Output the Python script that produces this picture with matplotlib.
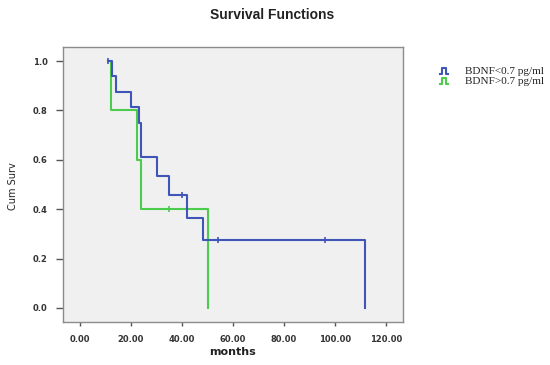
import matplotlib
matplotlib.use("Agg")
import matplotlib.pyplot as plt
from matplotlib.lines import Line2D

# Blue group: BDNF<0.7 pg/ml
blue_times = [11.0, 12.4, 14.1, 20.0, 23.1, 24.0, 30.1, 35.0, 42.1, 48.1, 111.9]
blue_surv = [1.0, 0.9375, 0.875, 0.8125, 0.75, 0.611, 0.534, 0.457, 0.366, 0.274, 0.0]
blue_cens_t = [11.0, 40.0, 54.0, 96.0]
blue_cens_s = [1.0, 0.457, 0.274, 0.274]

# Green group: BDNF>0.7 pg/ml
green_times = [12.0, 12.2, 22.2, 24.0, 50.0]
green_surv = [1.0, 0.8, 0.6, 0.4, 0.0]
green_cens_t = [35.0]
green_cens_s = [0.4]

xticks = [0, 20, 40, 60, 80, 100, 120]
yticks = [0.0, 0.2, 0.4, 0.6, 0.8, 1.0]

BLUE = "#4055B8"
GREEN = "#4CCB4C"

fig = plt.figure(figsize=(5.5, 3.65), dpi=100)
ax = fig.add_axes([63/550, 1-322/365, 340/550, 275/365])
ax.set_facecolor("#F0F0F0")

ax.step(green_times, green_surv, where="post", color=GREEN, lw=1.5)
ax.step(blue_times, blue_surv, where="post", color=BLUE, lw=1.5)
ax.plot(green_cens_t, green_cens_s, ls="none", marker="|", ms=5, mew=1.2, color=GREEN)
ax.plot(blue_cens_t, blue_cens_s, ls="none", marker="|", ms=5, mew=1.2, color=BLUE)

ax.set_xlim(-6.67, 126.67)
ax.set_ylim(-0.0567, 1.0567)
ax.set_xticks(xticks)
ax.set_xticklabels([f"{v:.2f}" for v in xticks])
ax.set_yticks(yticks)
ax.set_yticklabels([f"{v:.1f}" for v in yticks])

for s in ax.spines.values():
    s.set_color("#8C8C8C")
    s.set_linewidth(1.0)
ax.tick_params(axis="x", length=3, width=1, color="#555555", pad=6,
               labelsize=6, labelcolor="#333333")
ax.tick_params(axis="y", length=5, width=1, color="#555555", pad=6,
               labelsize=6, labelcolor="#333333")
for lab in ax.get_xticklabels() + ax.get_yticklabels():
    lab.set_fontweight("bold")

fig.text(272/550, 1-15/365, "Survival Functions", ha="center", va="center",
         family="Liberation Sans", fontweight="bold", fontsize=10, color="#222222")
fig.text(233/550, 1-352/365, "months", ha="center", va="center",
         fontweight="bold", fontsize=8, color="#222222")
fig.text(13/550, 1-186/365, "Cum Surv", ha="center", va="center",
         rotation=90, fontsize=7, color="#222222")

# legend
for i, (col, lab) in enumerate([(BLUE, "BDNF<0.7 pg/ml"), (GREEN, "BDNF>0.7 pg/ml")]):
    yc = 71 + i * 10
    x0, x1 = 440, 448
    xs = [x0, x0 + 2, x0 + 2, x1 - 2, x1 - 2, x1]
    ys = [yc + 3, yc + 3, yc - 3, yc - 3, yc + 3, yc + 3]
    fig.add_artist(Line2D([x / 550 for x in xs], [1 - y / 365 for y in ys],
                          color=col, lw=1.5, transform=fig.transFigure))
    fig.text(465/550, 1 - yc/365, lab, ha="left", va="center",
             family="Liberation Serif", fontsize=8, color="#222222")

fig.savefig("out.png", dpi=100)
